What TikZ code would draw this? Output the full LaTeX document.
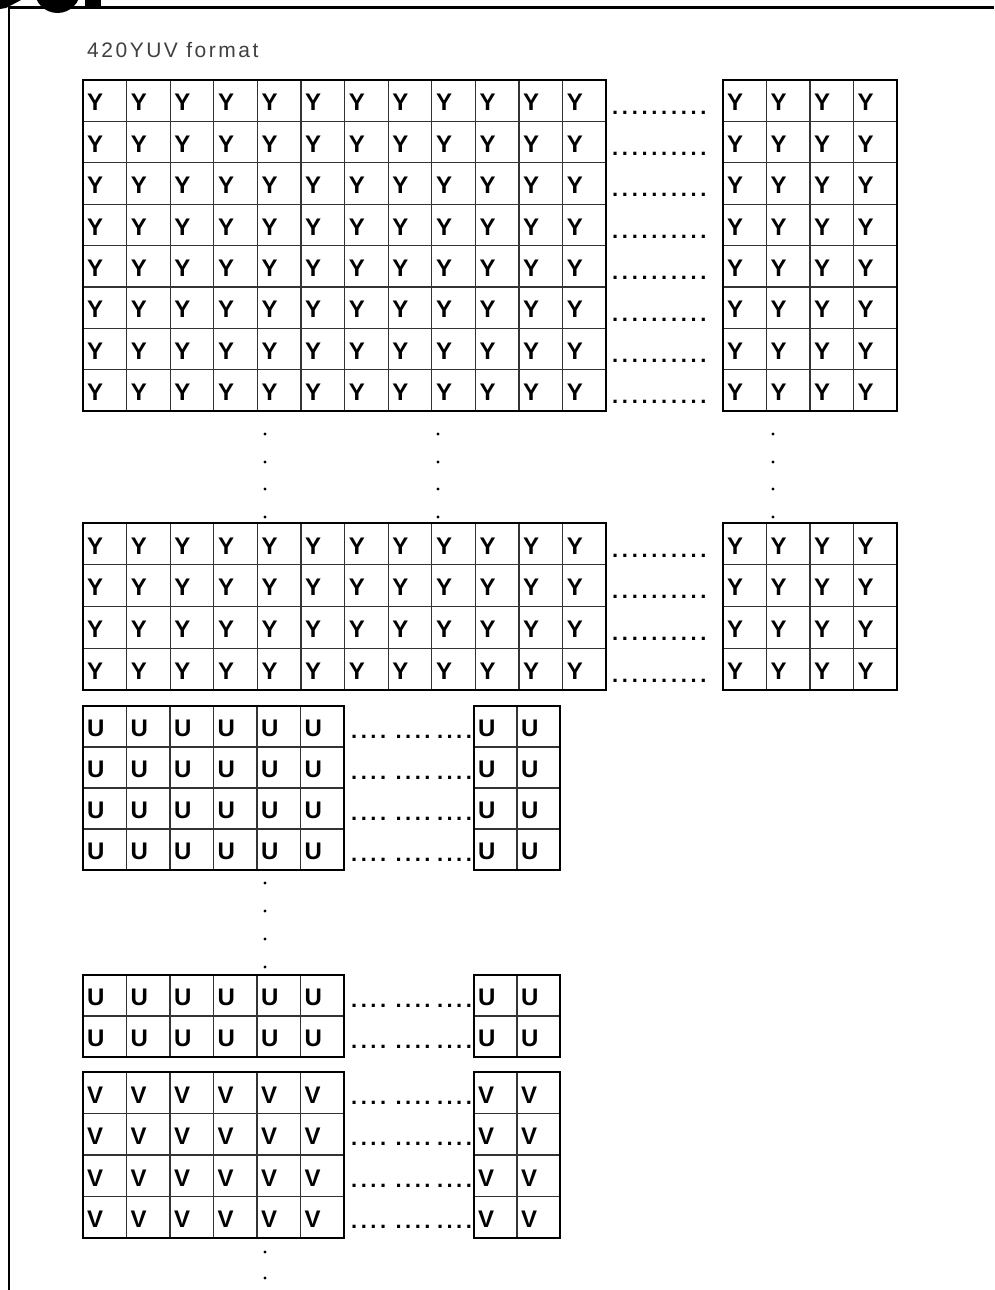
\documentclass[tikz,border=0pt]{standalone}
\usepackage{fontspec}
\setmainfont{Liberation Sans}
\newfontfamily\titlefont[LetterSpace=12]{Liberation Sans}
\tikzset{
  inner/.style={draw=black!80,line width=1.2pt},
  outer/.style={draw=black,line width=1.8pt},
  cellt/.style={anchor=west,inner sep=0pt,font=\bfseries\fontsize{24}{26}\selectfont},
  dotrow/.style={anchor=base west,inner sep=0pt,font=\bfseries\fontsize{22}{24}\selectfont},
  frameline/.style={line width=2.4pt,black},
  vdot/.style={fill=black}
}
\newcommand\pd{\makebox[9.8pt][l]{.}}
\newcommand\pu{\makebox[9.6pt][l]{.}}
\newcommand\ydots{\pd\pd\pd\pd\pd\pd\pd\pd\pd\pd}
\newcommand\udots{\pu\pu\pu\pu\hspace{6pt}\pu\pu\pu\pu\hspace{3pt}\pu\pu\pu\pu}
% #1 name, #2 x0, #3 y0, #4 ncols, #5 nrows, #6 colw, #7 rowh, #8 letter
\newcommand\gblock[8]{%
  \foreach \c in {1,...,#4}{\draw[inner] ({#2+\c*#6},#3) -- ({#2+\c*#6},{#3+#5*#7});}
  \foreach \r in {1,...,#5}{\draw[inner] (#2,{#3+\r*#7}) -- ({#2+#4*#6},{#3+\r*#7});}
  \draw[outer] (#2,#3) rectangle ({#2+#4*#6},{#3+#5*#7});
  \foreach \r in {1,...,#5}{\foreach \c in {1,...,#4}{
    \node[cellt] (#1-\r-\c) at ({#2+(\c-1)*#6+4},{#3+(\r-0.5)*#7+2}) {#8};}}%
}
\begin{document}
\begin{tikzpicture}[x=1pt,y=-1pt]
\useasboundingbox (0,0) rectangle (994,1290);
% logo fragment
\begin{scope}
\clip (0,0) rectangle (994,1290);
\fill[black] (0,-1) -- (23,-1) -- (6,8) -- (0,9) -- cycle;
\fill[black] (57.5,-10) circle (23);
\fill[black] (85,-1) rectangle (101,9);
\end{scope}
% frame
\draw[frameline] (9,7.5) -- (994,7.5);
\draw[frameline] (9,6.3) -- (9,1290);
% title
\node[anchor=west,inner sep=0pt,text=black!75,font=\titlefont\fontsize{21}{23}\selectfont] (title) at (87,50) {420YUV format};
% Y blocks
\gblock{ya}{83}{80}{12}{8}{43.6}{41.4}{Y}
\gblock{yar}{723}{80}{4}{8}{43.5}{41.4}{Y}
\foreach \r in {1,...,8}{\node[dotrow] (yad-\r) at (612,{80+(\r-1)*41.4+34}) {\ydots};}
\foreach \x in {265,438,773}{\foreach \y in {434,462,489,517}{\fill[vdot] (\x,\y) circle (1.7);}}
\gblock{yb}{83}{523}{12}{4}{43.6}{41.7}{Y}
\gblock{ybr}{723}{523}{4}{4}{43.5}{41.7}{Y}
\foreach \r in {1,...,4}{\node[dotrow] (ybd-\r) at (612,{523+(\r-1)*41.7+34}) {\ydots};}
% U blocks
\gblock{ua}{83}{706}{6}{4}{43.5}{41}{U}
\gblock{uar}{474}{706}{2}{4}{43}{41}{U}
\foreach \r in {1,...,4}{\node[dotrow] (uad-\r) at (351,{706+(\r-1)*41+32}) {\udots};}
\foreach \y in {883,911,939,967}{\fill[vdot] (265,\y) circle (1.7);}
\gblock{ub}{83}{975}{6}{2}{43.5}{41}{U}
\gblock{ubr}{474}{975}{2}{2}{43}{41}{U}
\foreach \r in {1,...,2}{\node[dotrow] (ubd-\r) at (351,{975+(\r-1)*41+32}) {\udots};}
% V blocks
\gblock{va}{83}{1072}{6}{4}{43.5}{41.5}{V}
\gblock{var}{474}{1072}{2}{4}{43}{41.5}{V}
\foreach \r in {1,...,4}{\node[dotrow] (vad-\r) at (351,{1072+(\r-1)*41.5+32}) {\udots};}
\foreach \y in {1252,1278}{\fill[vdot] (265,\y) circle (1.7);}
\end{tikzpicture}
\end{document}
